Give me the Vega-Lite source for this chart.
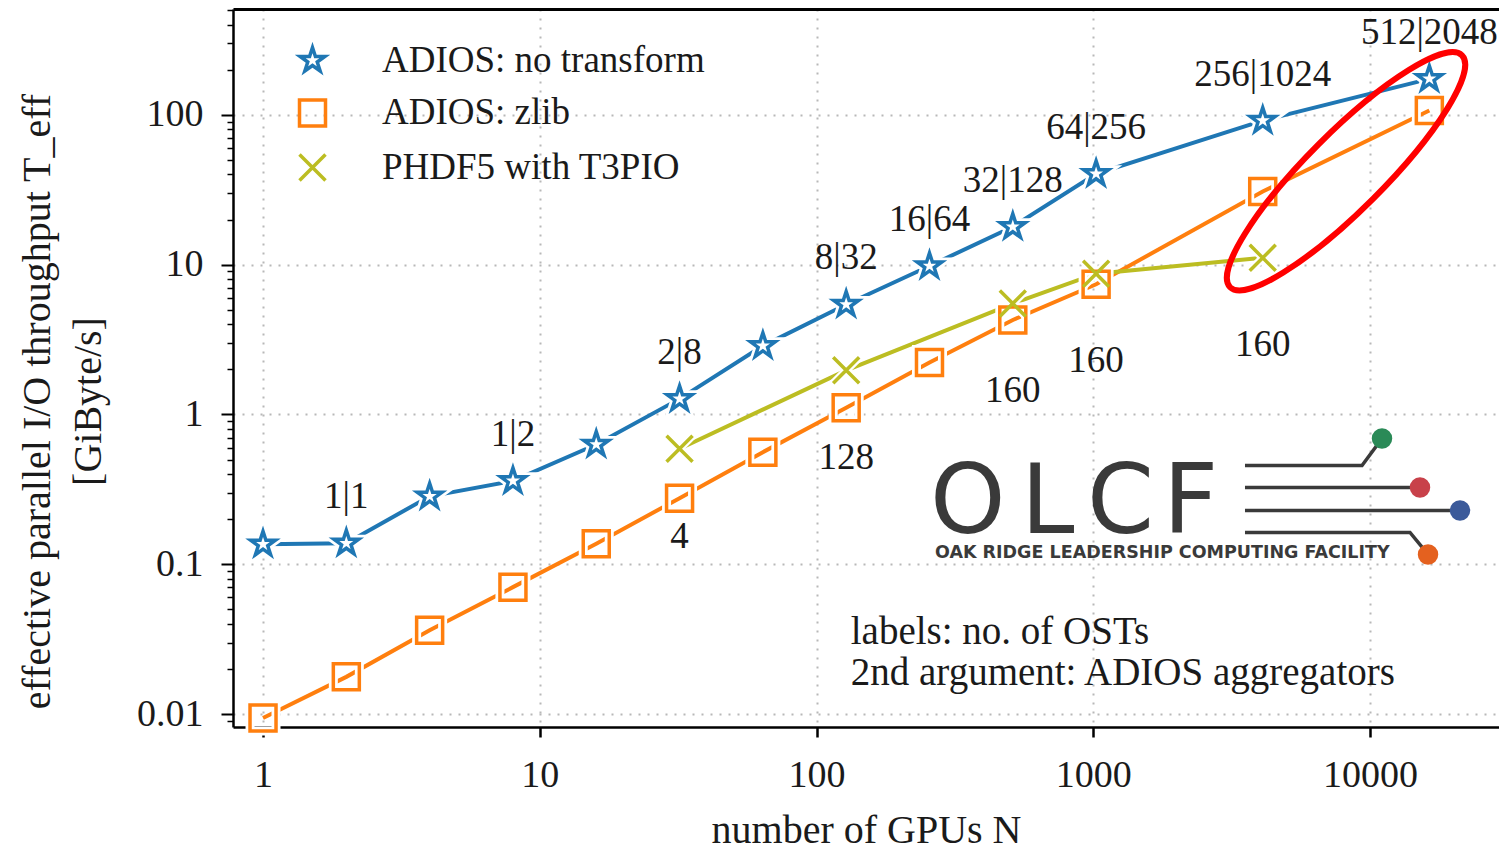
{
  "$schema": "https://vega.github.io/schema/vega-lite/v6.json",
  "width": 1266,
  "height": 718,
  "autosize": {"type": "none"},
  "padding": {"left": 233, "top": 9, "right": 0, "bottom": 124},
  "background": "white",
  "config": {"view": {"stroke": null}, "font": "Liberation Serif"},
  "resolve": {"axis": {"x": "independent", "y": "independent"}},
  "datasets": {
    "series": [
      {"series": "ADIOS: no transform", "N": 1, "T": 0.136},
      {"series": "ADIOS: no transform", "N": 2, "T": 0.138, "label": "1|1"},
      {"series": "ADIOS: no transform", "N": 4, "T": 0.284},
      {"series": "ADIOS: no transform", "N": 8, "T": 0.36, "label": "1|2"},
      {"series": "ADIOS: no transform", "N": 16, "T": 0.63},
      {"series": "ADIOS: no transform", "N": 32, "T": 1.27, "label": "2|8"},
      {"series": "ADIOS: no transform", "N": 64, "T": 2.87},
      {"series": "ADIOS: no transform", "N": 128, "T": 5.42, "label": "8|32"},
      {"series": "ADIOS: no transform", "N": 256, "T": 9.8, "label": "16|64"},
      {"series": "ADIOS: no transform", "N": 512, "T": 17.9, "label": "32|128"},
      {"series": "ADIOS: no transform", "N": 1024, "T": 40.4, "label": "64|256"},
      {"series": "ADIOS: no transform", "N": 4096, "T": 91.5, "label": "256|1024"},
      {"series": "ADIOS: no transform", "N": 16384, "T": 174, "label": "512|2048"},
      {"series": "ADIOS: zlib", "N": 1, "T": 0.0094},
      {"series": "ADIOS: zlib", "N": 2, "T": 0.0177},
      {"series": "ADIOS: zlib", "N": 4, "T": 0.0362},
      {"series": "ADIOS: zlib", "N": 8, "T": 0.0703},
      {"series": "ADIOS: zlib", "N": 16, "T": 0.137},
      {"series": "ADIOS: zlib", "N": 32, "T": 0.276},
      {"series": "ADIOS: zlib", "N": 64, "T": 0.56},
      {"series": "ADIOS: zlib", "N": 128, "T": 1.11},
      {"series": "ADIOS: zlib", "N": 256, "T": 2.22},
      {"series": "ADIOS: zlib", "N": 512, "T": 4.27},
      {"series": "ADIOS: zlib", "N": 1024, "T": 7.4},
      {"series": "ADIOS: zlib", "N": 4096, "T": 30.8},
      {"series": "ADIOS: zlib", "N": 16384, "T": 107},
      {"series": "PHDF5 with T3PIO", "N": 32, "T": 0.59},
      {"series": "PHDF5 with T3PIO", "N": 128, "T": 1.97},
      {"series": "PHDF5 with T3PIO", "N": 512, "T": 5.5},
      {"series": "PHDF5 with T3PIO", "N": 1024, "T": 8.7},
      {"series": "PHDF5 with T3PIO", "N": 4096, "T": 11.1}
    ],
    "ostlabels": [
      {"text": "4", "N": 32, "T": 0.151},
      {"text": "128", "N": 128, "T": 0.508},
      {"text": "160", "N": 512, "T": 1.424},
      {"text": "160", "N": 1024, "T": 2.26},
      {"text": "160", "N": 4096, "T": 2.89}
    ],
    "note": [
      {"text": "labels:  no. of OSTs", "N": 133, "T": 0.0351},
      {"text": "2nd argument:  ADIOS aggregators", "N": 133, "T": 0.01866}
    ],
    "highlight": [{"N": 8192, "T": 42}],
    "logoletters": [
      {"text": "O", "N": 257, "T": 0.1606},
      {"text": "L", "N": 548, "T": 0.1606},
      {"text": "C", "N": 949, "T": 0.1606},
      {"text": "F", "N": 1786, "T": 0.1606}
    ],
    "logosub": [
      {"text": "OAK RIDGE LEADERSHIP COMPUTING FACILITY", "N": 268, "T": 0.1093}
    ],
    "logolines": [
      {"id": 1, "k": 1, "N": 3534, "T": 0.4566},
      {"id": 1, "k": 2, "N": 9356, "T": 0.4566},
      {"id": 1, "k": 3, "N": 11050, "T": 0.6915},
      {"id": 2, "k": 1, "N": 3534, "T": 0.3256},
      {"id": 2, "k": 2, "N": 15158, "T": 0.3256},
      {"id": 3, "k": 1, "N": 3534, "T": 0.2286},
      {"id": 3, "k": 2, "N": 21145, "T": 0.2286},
      {"id": 4, "k": 1, "N": 3534, "T": 0.1631},
      {"id": 4, "k": 2, "N": 13947, "T": 0.1631},
      {"id": 4, "k": 3, "N": 16205, "T": 0.1162}
    ],
    "logodots": [
      {"dot": "green", "N": 11050, "T": 0.6915},
      {"dot": "red", "N": 15158, "T": 0.3256},
      {"dot": "blue", "N": 21145, "T": 0.2286},
      {"dot": "orange", "N": 16205, "T": 0.1162}
    ]
  },
  "layer": [
    {
      "data": {"name": "series"},
      "mark": {"type": "line", "strokeWidth": 4},
      "encoding": {
        "x": {
          "field": "N", "type": "quantitative",
          "scale": {"type": "log", "domain": [0.779, 29250], "nice": false},
          "axis": {
            "orient": "bottom",
            "values": [1, 10, 100, 1000, 10000],
            "format": "d",
            "labelFont": "Liberation Serif", "labelFontSize": 38, "labelColor": "#1a1a1a",
            "labelPadding": 19, "labelFlush": false, "labelOverlap": false,
            "tickSize": 10, "tickWidth": 2.5, "tickColor": "black",
            "domainColor": "black", "domainWidth": 2.5,
            "grid": true, "gridColor": "#b8b8b8", "gridDash": [2, 7], "gridWidth": 2,
            "title": "number of GPUs N",
            "titleFont": "Liberation Serif", "titleFontSize": 40, "titleFontWeight": "normal", "titleColor": "#1a1a1a",
            "titlePadding": 16
          }
        },
        "y": {
          "field": "T", "type": "quantitative",
          "scale": {"type": "log", "domain": [0.00819, 508.9], "nice": false},
          "axis": {
            "orient": "left",
            "values": [0.01, 0.1, 1, 10, 100],
            "labelExpr": "format(datum.value, '~g')",
            "labelFont": "Liberation Serif", "labelFontSize": 38, "labelColor": "#1a1a1a",
            "labelPadding": 18, "labelFlush": false, "labelOverlap": false,
            "tickSize": 12, "tickWidth": 2, "tickColor": "black",
            "domainColor": "black", "domainWidth": 2.5,
            "grid": true, "gridColor": "#b8b8b8", "gridDash": [2, 7], "gridWidth": 2,
            "title": ["effective parallel I/O throughput T_eff", "[GiByte/s]"],
            "titleFont": "Liberation Serif", "titleFontSize": 40, "titleFontWeight": "normal", "titleColor": "#1a1a1a",
            "titleLineHeight": 51, "titlePadding": 28, "titleY": 392
          }
        },
        "color": {
          "field": "series", "type": "nominal",
          "scale": {"domain": ["ADIOS: no transform", "ADIOS: zlib", "PHDF5 with T3PIO"], "range": ["#1f77b4", "#ff7f0e", "#bcbd22"]}
        }
      }
    },
    {
      "data": {"name": "series"},
      "mark": {"type": "point", "opacity": 0},
      "encoding": {
        "x": {"field": "N", "type": "quantitative", "axis": {"orient": "top", "labels": false, "ticks": false, "domain": true, "domainColor": "black", "domainWidth": 3, "grid": false, "title": null}},
        "y": {"field": "T", "type": "quantitative", "axis": {"orient": "left", "values": [0.009, 0.02, 0.03, 0.04, 0.05, 0.06, 0.07, 0.08, 0.09, 0.2, 0.3, 0.4, 0.5, 0.6, 0.7, 0.8, 0.9, 2, 3, 4, 5, 6, 7, 8, 9, 20, 30, 40, 50, 60, 70, 80, 90, 200, 300, 400, 500], "labels": false, "ticks": true, "tickSize": 6, "tickWidth": 1.5, "tickColor": "black", "domain": false, "grid": false, "title": null}}
      }
    },
    {
      "data": {"name": "logolines"},
      "mark": {"type": "line", "stroke": "#3a3a3a", "strokeWidth": 3.5},
      "encoding": {
        "x": {"field": "N", "type": "quantitative", "axis": null},
        "y": {"field": "T", "type": "quantitative", "axis": null},
        "detail": {"field": "id", "type": "nominal"},
        "order": {"field": "k", "type": "quantitative"}
      }
    },
    {
      "data": {"name": "logodots"},
      "mark": {"type": "point", "shape": "circle", "filled": true, "size": 420, "opacity": 1},
      "encoding": {
        "x": {"field": "N", "type": "quantitative", "axis": null},
        "y": {"field": "T", "type": "quantitative", "axis": null},
        "fill": {"field": "dot", "type": "nominal", "scale": {"domain": ["green", "red", "blue", "orange"], "range": ["#2a8a57", "#c8414a", "#3b5a9a", "#e4611f"]}, "legend": null}
      }
    },
    {
      "data": {"name": "logoletters"},
      "mark": {"type": "text", "font": "DejaVu Sans", "fontSize": 96, "fill": "#3a3a3a", "align": "left", "baseline": "alphabetic"},
      "encoding": {
        "x": {"field": "N", "type": "quantitative", "axis": null},
        "y": {"field": "T", "type": "quantitative", "axis": null},
        "text": {"field": "text"}
      }
    },
    {
      "data": {"name": "logosub"},
      "mark": {"type": "text", "font": "DejaVu Sans", "fontWeight": "bold", "fontSize": 17.5, "fill": "#3a3a3a", "align": "left", "baseline": "alphabetic"},
      "encoding": {
        "x": {"field": "N", "type": "quantitative", "axis": null},
        "y": {"field": "T", "type": "quantitative", "axis": null},
        "text": {"field": "text"}
      }
    },
    {
      "data": {"name": "series"},
      "transform": [{"filter": "datum.series == 'ADIOS: no transform'"}],
      "mark": {"type": "point", "filled": true, "fill": "white", "stroke": "white", "strokeWidth": 9, "size": 676, "opacity": 1,
        "shape": "M0,-1L0.2245,-0.309L0.951,-0.309L0.363,0.118L0.588,0.809L0,0.382L-0.588,0.809L-0.363,0.118L-0.951,-0.309L-0.2245,-0.309Z"},
      "encoding": {
        "x": {"field": "N", "type": "quantitative", "axis": null},
        "y": {"field": "T", "type": "quantitative", "axis": null}
      }
    },
    {
      "data": {"name": "series"},
      "transform": [{"filter": "datum.series == 'ADIOS: zlib'"}],
      "mark": {"type": "point", "filled": false, "stroke": "white", "strokeWidth": 9, "size": 676, "opacity": 1, "shape": "square"},
      "encoding": {
        "x": {"field": "N", "type": "quantitative", "axis": null},
        "y": {"field": "T", "type": "quantitative", "axis": null}
      }
    },
    {
      "data": {"name": "series"},
      "transform": [{"filter": "datum.series == 'PHDF5 with T3PIO'"}],
      "mark": {"type": "point", "filled": false, "stroke": "white", "strokeWidth": 8, "size": 676, "opacity": 1, "shape": "M-1,-1L1,1M-1,1L1,-1"},
      "encoding": {
        "x": {"field": "N", "type": "quantitative", "axis": null},
        "y": {"field": "T", "type": "quantitative", "axis": null}
      }
    },
    {
      "data": {"name": "series"},
      "mark": {"type": "point", "filled": false, "strokeWidth": 3.5, "size": 676, "opacity": 1},
      "encoding": {
        "x": {"field": "N", "type": "quantitative", "axis": null},
        "y": {"field": "T", "type": "quantitative", "axis": null},
        "color": {
          "field": "series", "type": "nominal",
          "legend": {
            "orient": "none", "legendX": 61, "legendY": 33, "title": null,
            "labelFont": "Liberation Serif", "labelFontSize": 37, "labelColor": "#1a1a1a", "labelLimit": 600,
            "labelOffset": 51, "rowPadding": 13.5,
            "symbolSize": 676, "symbolStrokeWidth": 3.5, "symbolFillColor": "transparent"
          }
        },
        "shape": {
          "field": "series", "type": "nominal",
          "scale": {"domain": ["ADIOS: no transform", "ADIOS: zlib", "PHDF5 with T3PIO"],
            "range": ["M0,-1L0.2245,-0.309L0.951,-0.309L0.363,0.118L0.588,0.809L0,0.382L-0.588,0.809L-0.363,0.118L-0.951,-0.309L-0.2245,-0.309Z", "square", "M-1,-1L1,1M-1,1L1,-1"]}
        }
      }
    },
    {
      "data": {"name": "highlight"},
      "mark": {"type": "point", "filled": false, "stroke": "#ff0000", "strokeWidth": 6, "opacity": 1, "size": 107584, "angle": 315,
        "shape": "M1,0C1,0.1298,0.5523,0.235,0,0.235C-0.5523,0.235,-1,0.1298,-1,0C-1,-0.1298,-0.5523,-0.235,0,-0.235C0.5523,-0.235,1,-0.1298,1,0Z"},
      "encoding": {
        "x": {"field": "N", "type": "quantitative", "axis": null},
        "y": {"field": "T", "type": "quantitative", "axis": null}
      }
    },
    {
      "data": {"name": "series"},
      "transform": [{"filter": "datum.label"}],
      "mark": {"type": "text", "font": "Liberation Serif", "fontSize": 37, "fill": "#1a1a1a", "align": "center", "baseline": "middle", "dy": -46},
      "encoding": {
        "x": {"field": "N", "type": "quantitative", "axis": null},
        "y": {"field": "T", "type": "quantitative", "axis": null},
        "text": {"field": "label"}
      }
    },
    {
      "data": {"name": "ostlabels"},
      "mark": {"type": "text", "font": "Liberation Serif", "fontSize": 37, "fill": "#1a1a1a", "align": "center", "baseline": "middle"},
      "encoding": {
        "x": {"field": "N", "type": "quantitative", "axis": null},
        "y": {"field": "T", "type": "quantitative", "axis": null},
        "text": {"field": "text"}
      }
    },
    {
      "data": {"name": "note"},
      "mark": {"type": "text", "font": "Liberation Serif", "fontSize": 39, "fill": "#1a1a1a", "align": "left", "baseline": "middle"},
      "encoding": {
        "x": {"field": "N", "type": "quantitative", "axis": null},
        "y": {"field": "T", "type": "quantitative", "axis": null},
        "text": {"field": "text"}
      }
    }
  ]
}
